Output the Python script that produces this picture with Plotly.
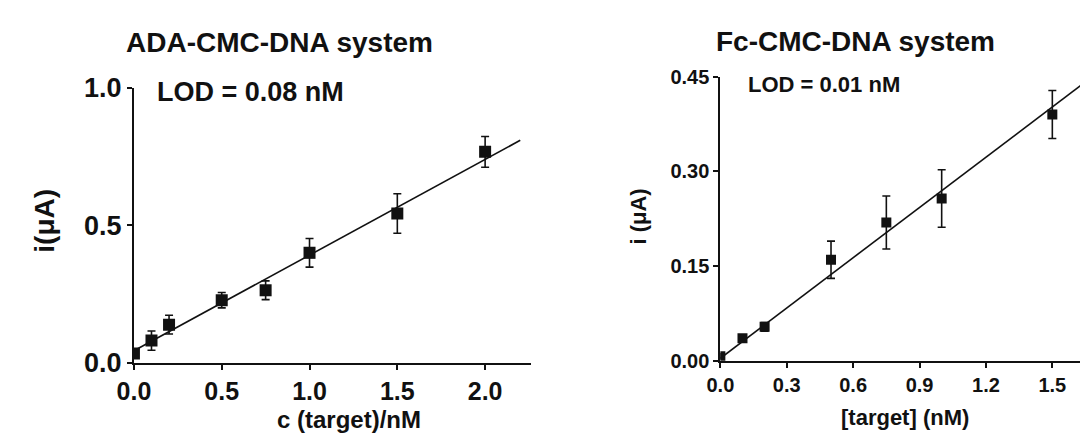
import plotly.graph_objects as go

W, H = 1080, 446

# ---- data: ADA-CMC-DNA system (left) ----
ada_c = [0.0, 0.1, 0.2, 0.5, 0.75, 1.0, 1.5, 2.0]
ada_i = [0.034, 0.081, 0.139, 0.228, 0.264, 0.400, 0.543, 0.767]
ada_err = [0.012, 0.035, 0.034, 0.028, 0.034, 0.052, 0.072, 0.056]
ada_fit_x = [0.0, 2.2]
ada_fit_y = [0.044, 0.809]

# ---- data: Fc-CMC-DNA system (right) ----
fc_c = [0.0, 0.1, 0.2, 0.5, 0.75, 1.0, 1.5]
fc_i = [0.007, 0.0355, 0.0537, 0.160, 0.219, 0.257, 0.390]
fc_err = [0.004, 0.005, 0.007, 0.0295, 0.042, 0.0455, 0.038]
fc_fit_x = [0.0, 1.7]
fc_fit_y = [0.004, 0.455]

FONT = "Liberation Sans, Arial, sans-serif"
INK = "#111111"


def px_x(x):
    return x / W


def px_y(y):
    return 1 - y / H


fig = go.Figure()

# left panel
fig.add_trace(go.Scatter(x=ada_fit_x, y=ada_fit_y, mode="lines",
                         line=dict(color=INK, width=1.6), xaxis="x", yaxis="y",
                         showlegend=False, hoverinfo="skip"))
fig.add_trace(go.Scatter(x=ada_c, y=ada_i, mode="markers",
                         marker=dict(symbol="square", size=12, color=INK),
                         error_y=dict(type="data", array=ada_err, color=INK,
                                      thickness=1.6, width=4),
                         xaxis="x", yaxis="y", showlegend=False))

# right panel
fig.add_trace(go.Scatter(x=fc_fit_x, y=fc_fit_y, mode="lines",
                         line=dict(color=INK, width=1.6), xaxis="x2", yaxis="y2",
                         showlegend=False, hoverinfo="skip"))
fig.add_trace(go.Scatter(x=fc_c, y=fc_i, mode="markers",
                         marker=dict(symbol="square", size=10, color=INK),
                         error_y=dict(type="data", array=fc_err, color=INK,
                                      thickness=1.6, width=4),
                         xaxis="x2", yaxis="y2", showlegend=False))

axis_common = dict(showline=True, linecolor=INK, linewidth=2, ticks="outside",
                   ticklen=5, tickwidth=2, tickcolor=INK, showgrid=False,
                   zeroline=False)

fig.update_layout(
    width=W, height=H,
    margin=dict(l=0, r=0, t=0, b=0),
    paper_bgcolor="white", plot_bgcolor="white",
    font=dict(family=FONT, color=INK),
    xaxis=dict(domain=[px_x(118.8), px_x(522.7)], range=[0, 2.264],
               tickvals=[0.0, 0.5, 1.0, 1.5, 2.0], tickformat=".1f",
               tickfont=dict(size=25, family=FONT, weight="bold", color=INK),
               anchor="y", **axis_common),
    yaxis=dict(domain=[px_y(373), px_y(78)], range=[0, 1.0],
               tickvals=[0.0, 0.5, 1.0], tickformat=".1f",
               tickfont=dict(size=27, family=FONT, weight="bold", color=INK),
               anchor="x", **axis_common),
    xaxis2=dict(domain=[px_x(714.6), 1.0], range=[0, 1.625],
                tickvals=[0.0, 0.3, 0.6, 0.9, 1.2, 1.5], tickformat=".1f",
                tickfont=dict(size=20, family=FONT, weight="bold", color=INK),
                anchor="y2", **axis_common),
    yaxis2=dict(domain=[px_y(370.7), px_y(66)], range=[0, 0.45],
                tickvals=[0.0, 0.15, 0.30, 0.45], tickformat=".2f",
                tickfont=dict(size=20, family=FONT, weight="bold", color=INK),
                anchor="x2", **axis_common),
)

annotations = [
    dict(text="ADA-CMC-DNA system", x=px_x(267), y=px_y(29), size=28),
    dict(text="Fc-CMC-DNA system", x=px_x(852), y=px_y(28), size=28),
    dict(text="LOD = 0.08 nM", x=px_x(140), y=px_y(83), size=27, xanchor="left"),
    dict(text="LOD = 0.01 nM", x=px_x(741), y=px_y(74), size=22, xanchor="left"),
    dict(text="c (target)/nM", x=px_x(337), y=px_y(434), size=24),
    dict(text="[target] (nM)", x=px_x(902), y=px_y(432), size=22),
    dict(text="i(μA)", x=px_x(28), y=px_y(221), size=28, angle=-90),
    dict(text="i (μA)", x=px_x(631), y=px_y(216), size=22, angle=-90),
]
for a in annotations:
    fig.add_annotation(
        text=a["text"], x=a["x"], y=a["y"], xref="paper", yref="paper",
        xanchor=a.get("xanchor", "center"), yanchor="middle",
        showarrow=False, textangle=a.get("angle", 0),
        font=dict(family=FONT, size=a["size"], weight="bold", color=INK),
    )

fig.write_html("out.html")
